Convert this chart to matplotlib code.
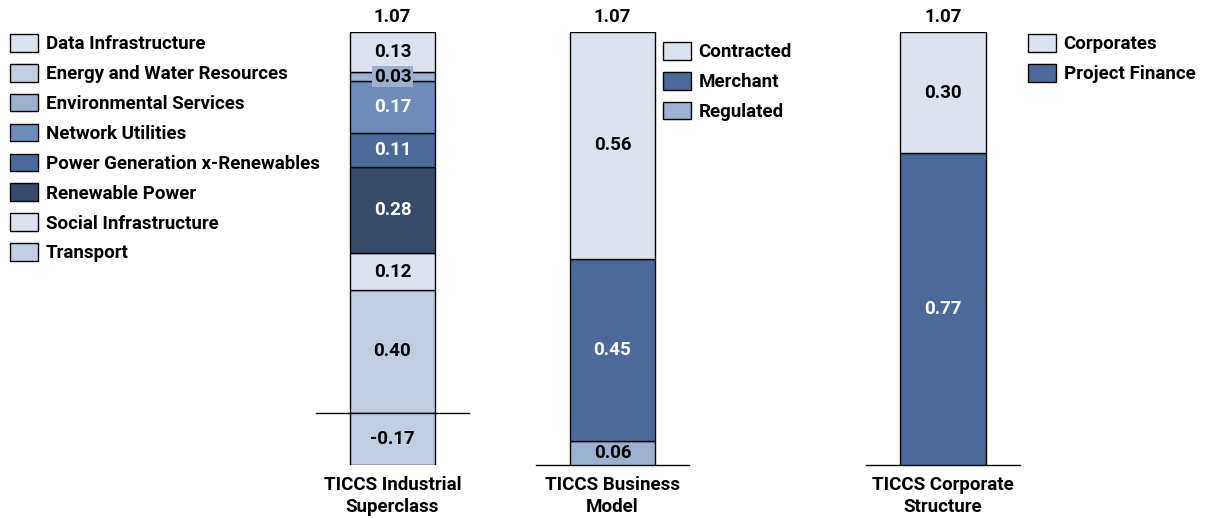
import numpy as np
import matplotlib
matplotlib.use('Agg')
import matplotlib.pyplot as plt
from matplotlib.patches import Patch

plt.rcParams['font.family'] = ['Roboto', 'DejaVu Sans']
plt.rcParams['font.weight'] = 'bold'

FS = 13.5

# TICCS Industrial Superclass (legend order)
industry_names = [
    'Data Infrastructure',
    'Energy and Water Resources',
    'Environmental Services',
    'Network Utilities',
    'Power Generation x-Renewables',
    'Renewable Power',
    'Social Infrastructure',
    'Transport',
]
industry_values = [0.13, -0.17, 0.03, 0.17, 0.11, 0.28, 0.12, 0.40]
industry_colors = ['#DDE3EE', '#C2CDE0', '#9CB0CF', '#6C8DBA',
                   '#4A6A9A', '#374A6A', '#DDE3EE', '#C2CDE0']
industry_text = ['black', 'black', 'black', 'white',
                 'white', 'white', 'black', 'black']

# TICCS Business Model
model_names = ['Contracted', 'Merchant', 'Regulated']
model_values = [0.56, 0.45, 0.06]
model_colors = ['#DDE3EE', '#4A6A9A', '#9CB0CF']
model_text = ['black', 'white', 'black']

# TICCS Corporate Structure
struct_names = ['Corporates', 'Project Finance']
struct_values = [0.30, 0.77]
struct_colors = ['#DDE3EE', '#4A6A9A']
struct_text = ['black', 'white']

panel_titles = ['TICCS Industrial\nSuperclass', 'TICCS Business\nModel',
                'TICCS Corporate\nStructure']

W, H = 1208, 518
fig = plt.figure(figsize=(W / 100, H / 100), dpi=100)


def px_axes(x0, x1, y0, y1):
    return fig.add_axes([x0 / W, 1 - y1 / H, (x1 - x0) / W, (y1 - y0) / H])


def stacked_bar(ax, values, colors, text_colors, title, boxed=()):
    # stack bottom-up in reverse legend order, negatives below zero
    pos_bottom = 0.0
    neg_bottom = 0.0
    for i in reversed(range(len(values))):
        v = values[i]
        if v >= 0:
            b = pos_bottom
            pos_bottom += v
        else:
            b = neg_bottom
            neg_bottom += v
        ax.bar(0, v, bottom=b, width=0.56, color=colors[i],
               edgecolor='black', linewidth=1.0, zorder=2)
        kw = {}
        if i in boxed:
            kw['bbox'] = dict(facecolor=colors[i], edgecolor='none', pad=1.0)
        ax.text(0, b + v / 2, '{:.2f}'.format(v), ha='center', va='center',
                color=text_colors[i], fontsize=FS, fontweight='bold',
                zorder=3, **kw)
    total = sum(values)
    ax.annotate('{:.2f}'.format(total), (0, pos_bottom), xytext=(0, 4),
                textcoords='offset points', ha='center', va='bottom',
                fontsize=FS, fontweight='bold', annotation_clip=False)
    ax.set_xlim(-0.5, 0.5)
    ax.set_ylim(neg_bottom, pos_bottom)
    for s in ax.spines.values():
        s.set_visible(False)
    ax.axhline(0, color='black', linewidth=1.0, zorder=1, clip_on=False)
    ax.set_yticks([])
    ax.set_xticks([0])
    ax.set_xticklabels([title], fontsize=FS, fontweight='bold',
                       linespacing=1.25)
    ax.tick_params(axis='x', length=0, pad=8)


def add_legend(names, colors, x, y):
    handles = [Patch(facecolor=c, edgecolor='black', linewidth=1.0)
               for c in colors]
    fig.legend(handles, names, loc='upper left',
               bbox_to_anchor=(x / W, 1 - y / H), frameon=False,
               prop={'size': FS, 'weight': 'bold'},
               handlelength=1.5, handleheight=1.07, handletextpad=0.4,
               labelspacing=0.57, borderaxespad=0, borderpad=0)


ax1 = px_axes(316, 469, 32, 465)
stacked_bar(ax1, industry_values, industry_colors, industry_text,
            panel_titles[0], boxed=(2,))
ax2 = px_axes(536, 689, 32, 465)
stacked_bar(ax2, model_values, model_colors, model_text, panel_titles[1])
ax3 = px_axes(866, 1020, 32, 465)
stacked_bar(ax3, struct_values, struct_colors, struct_text, panel_titles[2])

add_legend(industry_names, industry_colors, 10, 34)
add_legend(model_names, model_colors, 663, 42)
add_legend(struct_names, struct_colors, 1028, 34)

fig.savefig('out.png', dpi=100)
